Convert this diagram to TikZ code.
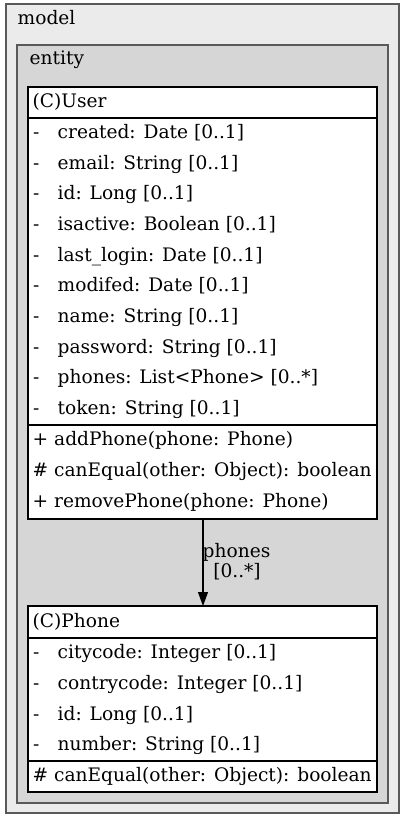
\documentclass[tikz,border=0pt]{standalone}
\usepackage{fontspec}
\setmainfont{DejaVu Serif}
\usetikzlibrary{arrows.meta}
\begin{document}
\begin{tikzpicture}[x=1pt,y=-1pt,
  pkgbox/.style={draw=black!65, line width=1.6pt},
  classbox/.style={draw=black, fill=white, line width=1.1pt},
  sepline/.style={draw=black, line width=1.1pt},
  txt/.style={anchor=base west, inner sep=0pt, font=\fontsize{18.6}{21}\selectfont},
  lbl/.style={anchor=base, inner sep=0pt, font=\fontsize{18.6}{21}\selectfont},
  assoc/.style={draw=black, line width=1.1pt, -{Triangle[length=14pt,width=10pt]}}]
\useasboundingbox (0,0) rectangle (407,820);
% packages
\path[pkgbox, fill=black!8] (6,4) rectangle (399,813);
\node[txt] (modellbl) at (17.5,24.7) {model};
\path[pkgbox, fill=black!16] (17,45) rectangle (388,803);
\node[txt] (entitylbl) at (29.5,64) {entity};
% class User
\path[classbox] (28,87) rectangle (377,519);
\coordinate (usertop) at (203,87);
\coordinate (userbot) at (203,519);
\draw[sepline] (28,118) -- (377,118);
\draw[sepline] (28,425) -- (377,425);
\node[txt] (uname) at (32.5,107.5) {(C)User};
\foreach \t [count=\i from 0] in {created: Date [0..1], email: String [0..1], id: Long [0..1], isactive: Boolean [0..1], last\_login: Date [0..1], modifed: Date [0..1], name: String [0..1], password: String [0..1], phones: List<Phone> [0..*], token: String [0..1]}{
  \node[txt] (uvis\i) at (33,138.3+30.7*\i) {-};
  \node[txt] (uatt\i) at (57.5,138.3+30.7*\i) {\t};
}
\node[txt] (um0) at (32.5,445.3) {+ addPhone(phone: Phone)};
\node[txt] (um1) at (32.5,476.6) {\# canEqual(other: Object): boolean};
\node[txt] (um2) at (32.5,507.9) {+ removePhone(phone: Phone)};
% class Phone
\path[classbox] (28,606) rectangle (377,792);
\coordinate (phonetop) at (203,606);
\draw[sepline] (28,638) -- (377,638);
\draw[sepline] (28,761) -- (377,761);
\node[txt] (pname) at (32.5,627.5) {(C)Phone};
\foreach \t [count=\i from 0] in {citycode: Integer [0..1], contrycode: Integer [0..1], id: Long [0..1], number: String [0..1]}{
  \node[txt] (pvis\i) at (33,658.6+30.75*\i) {-};
  \node[txt] (patt\i) at (57.5,658.6+30.75*\i) {\t};
}
\node[txt] (pm0) at (32.5,781.5) {\# canEqual(other: Object): boolean};
% association
\draw[assoc] (userbot) -- (phonetop);
\node[lbl] (assoclbl1) at (236.5,557) {phones};
\node[lbl] (assoclbl2) at (237,577) {[0..*]};
\end{tikzpicture}
\end{document}
